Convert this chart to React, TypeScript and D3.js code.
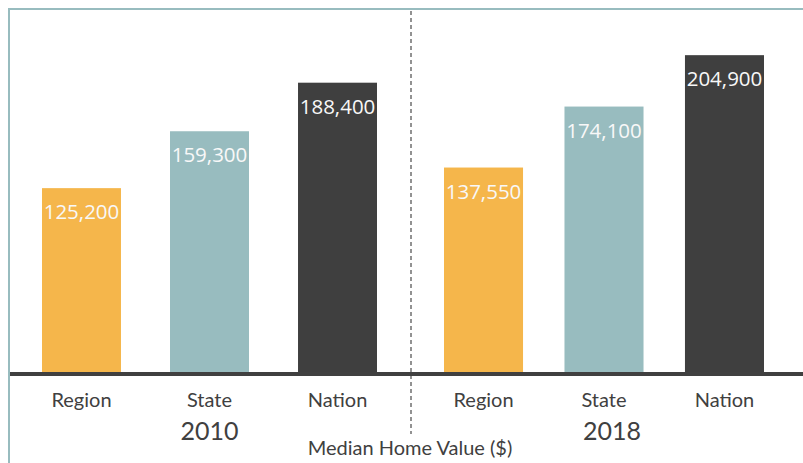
import React from "react";
import * as d3 from "d3";

const years = ["2010", "2018"];
const categories = ["Region", "State", "Nation"];
const values2010 = [125200, 159300, 188400];
const values2018 = [137550, 174100, 204900];
const seriesByYear = [values2010, values2018];
const colors = ["#F5B64B", "#98BCBF", "#3F3F3F"];
const axisTitle = "Median Home Value ($)";

const W = 803;
const H = 463;
const baseY = 372;
const groupRanges: [number, number][] = [
  [42, 377],
  [444, 764],
];
const groupPadding = [0.383, 0.344];
const yearOffsets = [0, 8];

export default function App() {
  const y = d3.scaleLinear().domain([15000, 205000]).range([baseY, 55]);
  const fmt = d3.format(",");
  const labelColor = "#404040";
  const font = "Lato, 'Open Sans', sans-serif";

  return (
    <div style={{ position: "fixed", left: 0, top: 0, width: W, height: H, background: "#fff" }}>
      <svg width={W} height={H} style={{ display: "block" }}>
        <line x1={8} x2={W} y1={9} y2={9} stroke="#98BCBF" strokeWidth={2} />
        <line x1={9} x2={9} y1={8} y2={H} stroke="#98BCBF" strokeWidth={2} />
        <line x1={411} x2={411} y1={11} y2={434} stroke="#6f6f6f" strokeWidth={1.5} strokeDasharray="4,3" />
        {years.map((yr, gi) => {
          const xb = d3
            .scaleBand<string>()
            .domain(categories)
            .range(groupRanges[gi])
            .paddingInner(groupPadding[gi])
            .paddingOuter(0);
          const vals = seriesByYear[gi];
          return (
            <g key={yr}>
              {categories.map((c, i) => {
                const x0 = xb(c) as number;
                const bw = xb.bandwidth();
                const top = y(vals[i]);
                return (
                  <g key={c}>
                    <rect x={x0} y={top} width={bw} height={baseY - top} fill={colors[i]} />
                    <text
                      x={x0 + bw / 2}
                      y={top + 31}
                      textAnchor="middle"
                      fill="#F8F8F8"
                      fontFamily="'Open Sans', sans-serif"
                      fontSize={20.5}
                    >
                      {fmt(vals[i])}
                    </text>
                    <text
                      x={x0 + bw / 2}
                      y={407}
                      textAnchor="middle"
                      fill={labelColor}
                      fontFamily={font}
                      fontSize={20}
                    >
                      {c}
                    </text>
                  </g>
                );
              })}
              <text
                x={(xb(categories[1]) as number) + xb.bandwidth() / 2 + yearOffsets[gi]}
                y={440}
                textAnchor="middle"
                fill={labelColor}
                fontFamily={font}
                fontSize={25}
              >
                {yr}
              </text>
            </g>
          );
        })}
        <line x1={10} x2={W} y1={374} y2={374} stroke="#404040" strokeWidth={4} />
        <text x={410} y={455} textAnchor="middle" fill={labelColor} fontFamily={font} fontSize={20}>
          {axisTitle}
        </text>
      </svg>
    </div>
  );
}
